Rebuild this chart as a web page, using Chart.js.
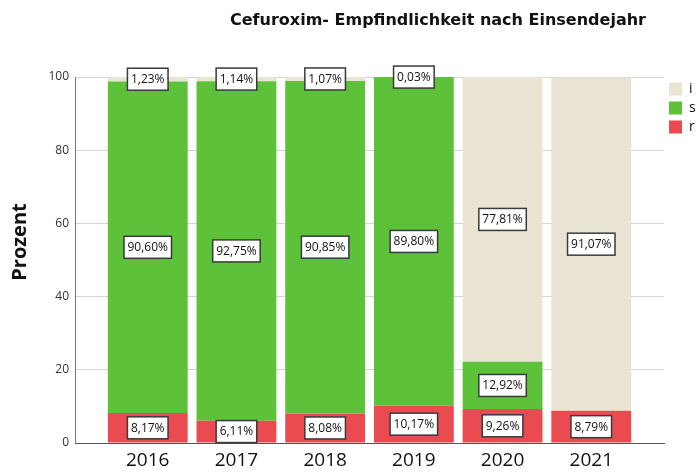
<!DOCTYPE html>
<html>
<head>
<meta charset="utf-8">
<script src="https://cdn.jsdelivr.net/npm/chart.js@4.4.1/dist/chart.umd.min.js"></script>
<style>
  html, body { margin: 0; padding: 0; background: #fff; }
  #wrap { width: 697px; height: 472px; position: relative; }
</style>
</head>
<body>
<div id="wrap"><canvas id="myChart" width="697" height="472"></canvas></div>
<script>
/* Data */
const years = [2016, 2017, 2018, 2019, 2020, 2021];
const valuesR = [8.17, 6.11, 8.08, 10.17, 9.26, 8.79];
const valuesS = [90.60, 92.75, 90.85, 89.80, 12.92, null];
const valuesI = [1.23, 1.14, 1.07, 0.03, 77.81, 91.07];
const yTicks = [0, 20, 40, 60, 80, 100];

/* Colors */
let colorRed = 'rgb(234, 75, 80)';
let colorGreen = 'rgb(94, 193, 58)';
let colorBeige = 'rgb(234, 228, 210)';

const toPoints = (vals) => years.map((y, i) => ({ x: y, y: vals[i] }));

const data = {
  datasets: [
    { label: 'r', data: toPoints(valuesR), backgroundColor: colorRed },
    { label: 's', data: toPoints(valuesS), backgroundColor: colorGreen },
    { label: 'i', data: toPoints(valuesI), backgroundColor: colorBeige },
  ],
};

// boxed percentage labels in the middle of each segment
const boxLabels = {
  id: 'boxLabels',
  afterDatasetsDraw(chart) {
    const ctx = chart.ctx;
    ctx.save();
    ctx.font = '12px "Open Sans"';
    ctx.textAlign = 'center';
    ctx.textBaseline = 'middle';
    chart.data.datasets.forEach((ds, di) => {
      const meta = chart.getDatasetMeta(di);
      meta.data.forEach((bar, i) => {
        const v = ds.data[i].y;
        if (v == null) return;
        const txt = v.toFixed(2).replace('.', ',') + '%';
        const cy = (bar.y + bar.base) / 2;
        const w = ctx.measureText(txt).width + 7;
        const h = 22;
        ctx.fillStyle = '#fff';
        ctx.fillRect(bar.x - w / 2, cy - h / 2, w, h);
        ctx.lineWidth = 1.5;
        ctx.strokeStyle = '#3a3a3a';
        ctx.strokeRect(bar.x - w / 2, cy - h / 2, w, h);
        ctx.fillStyle = '#111';
        ctx.fillText(txt, bar.x, cy + 0.5);
      });
    });
    ctx.restore();
  },
};

// chart title and the y axis title (sits a bit above the plot middle)
const titles = {
  id: 'titles',
  afterDraw(chart) {
    const ctx = chart.ctx;
    ctx.save();
    ctx.fillStyle = '#111';
    ctx.textAlign = 'center';
    ctx.textBaseline = 'middle';
    ctx.font = 'bold 16px "DejaVu Sans"';
    ctx.fillText('Cefuroxim- Empfindlichkeit nach Einsendejahr', 438, 21);
    ctx.translate(20, 242);
    ctx.rotate(-Math.PI / 2);
    ctx.font = 'bold 20px "Open Sans"';
    ctx.fillText('Prozent', 0, 0);
    ctx.restore();
  },
};

const chartConfig = {
  type: 'bar',
  data,
  options: {
    responsive: false,
    animation: false,
    layout: { padding: { top: 77, right: 0, bottom: 0, left: 0 } },
    datasets: { bar: { categoryPercentage: 1, barPercentage: 0.9 } },
    scales: {
      x: {
        type: 'linear',
        stacked: true,
        offset: false,
        min: years[0] - 0.82,
        max: years[years.length - 1] + 0.82,
        afterBuildTicks: (scale) => { scale.ticks = years.map((v) => ({ value: v })); },
        afterFit: (scale) => { scale.height = 29; },
        grid: { display: false, drawTicks: false },
        border: { display: true, color: '#555', width: 1 },
        ticks: {
          padding: 6,
          color: '#111',
          font: { family: 'Open Sans', size: 19 },
          callback: (v) => String(v),
        },
      },
      y: {
        stacked: true,
        min: 0,
        max: 100,
        afterBuildTicks: (scale) => { scale.ticks = yTicks.map((v) => ({ value: v })); },
        afterFit: (scale) => { scale.width = 75; },
        grid: { color: '#d4d4d4', drawTicks: false },
        border: { display: true, color: '#777', width: 1 },
        ticks: {
          padding: 6,
          color: '#333',
          font: { family: 'Open Sans', size: 12 },
        },
      },
    },
    plugins: {
      legend: {
        position: 'right',
        align: 'start',
        reverse: true,
        maxWidth: 33,
        labels: {
          boxWidth: 13,
          boxHeight: 13,
          padding: 5,
          color: '#111',
          font: { family: 'Open Sans', size: 14 },
        },
      },
      tooltip: { enabled: false },
    },
  },
  plugins: [boxLabels, titles],
};

const ctx = document.getElementById('myChart').getContext('2d');
const myChart = new Chart(ctx, chartConfig);
</script>
</body>
</html>
